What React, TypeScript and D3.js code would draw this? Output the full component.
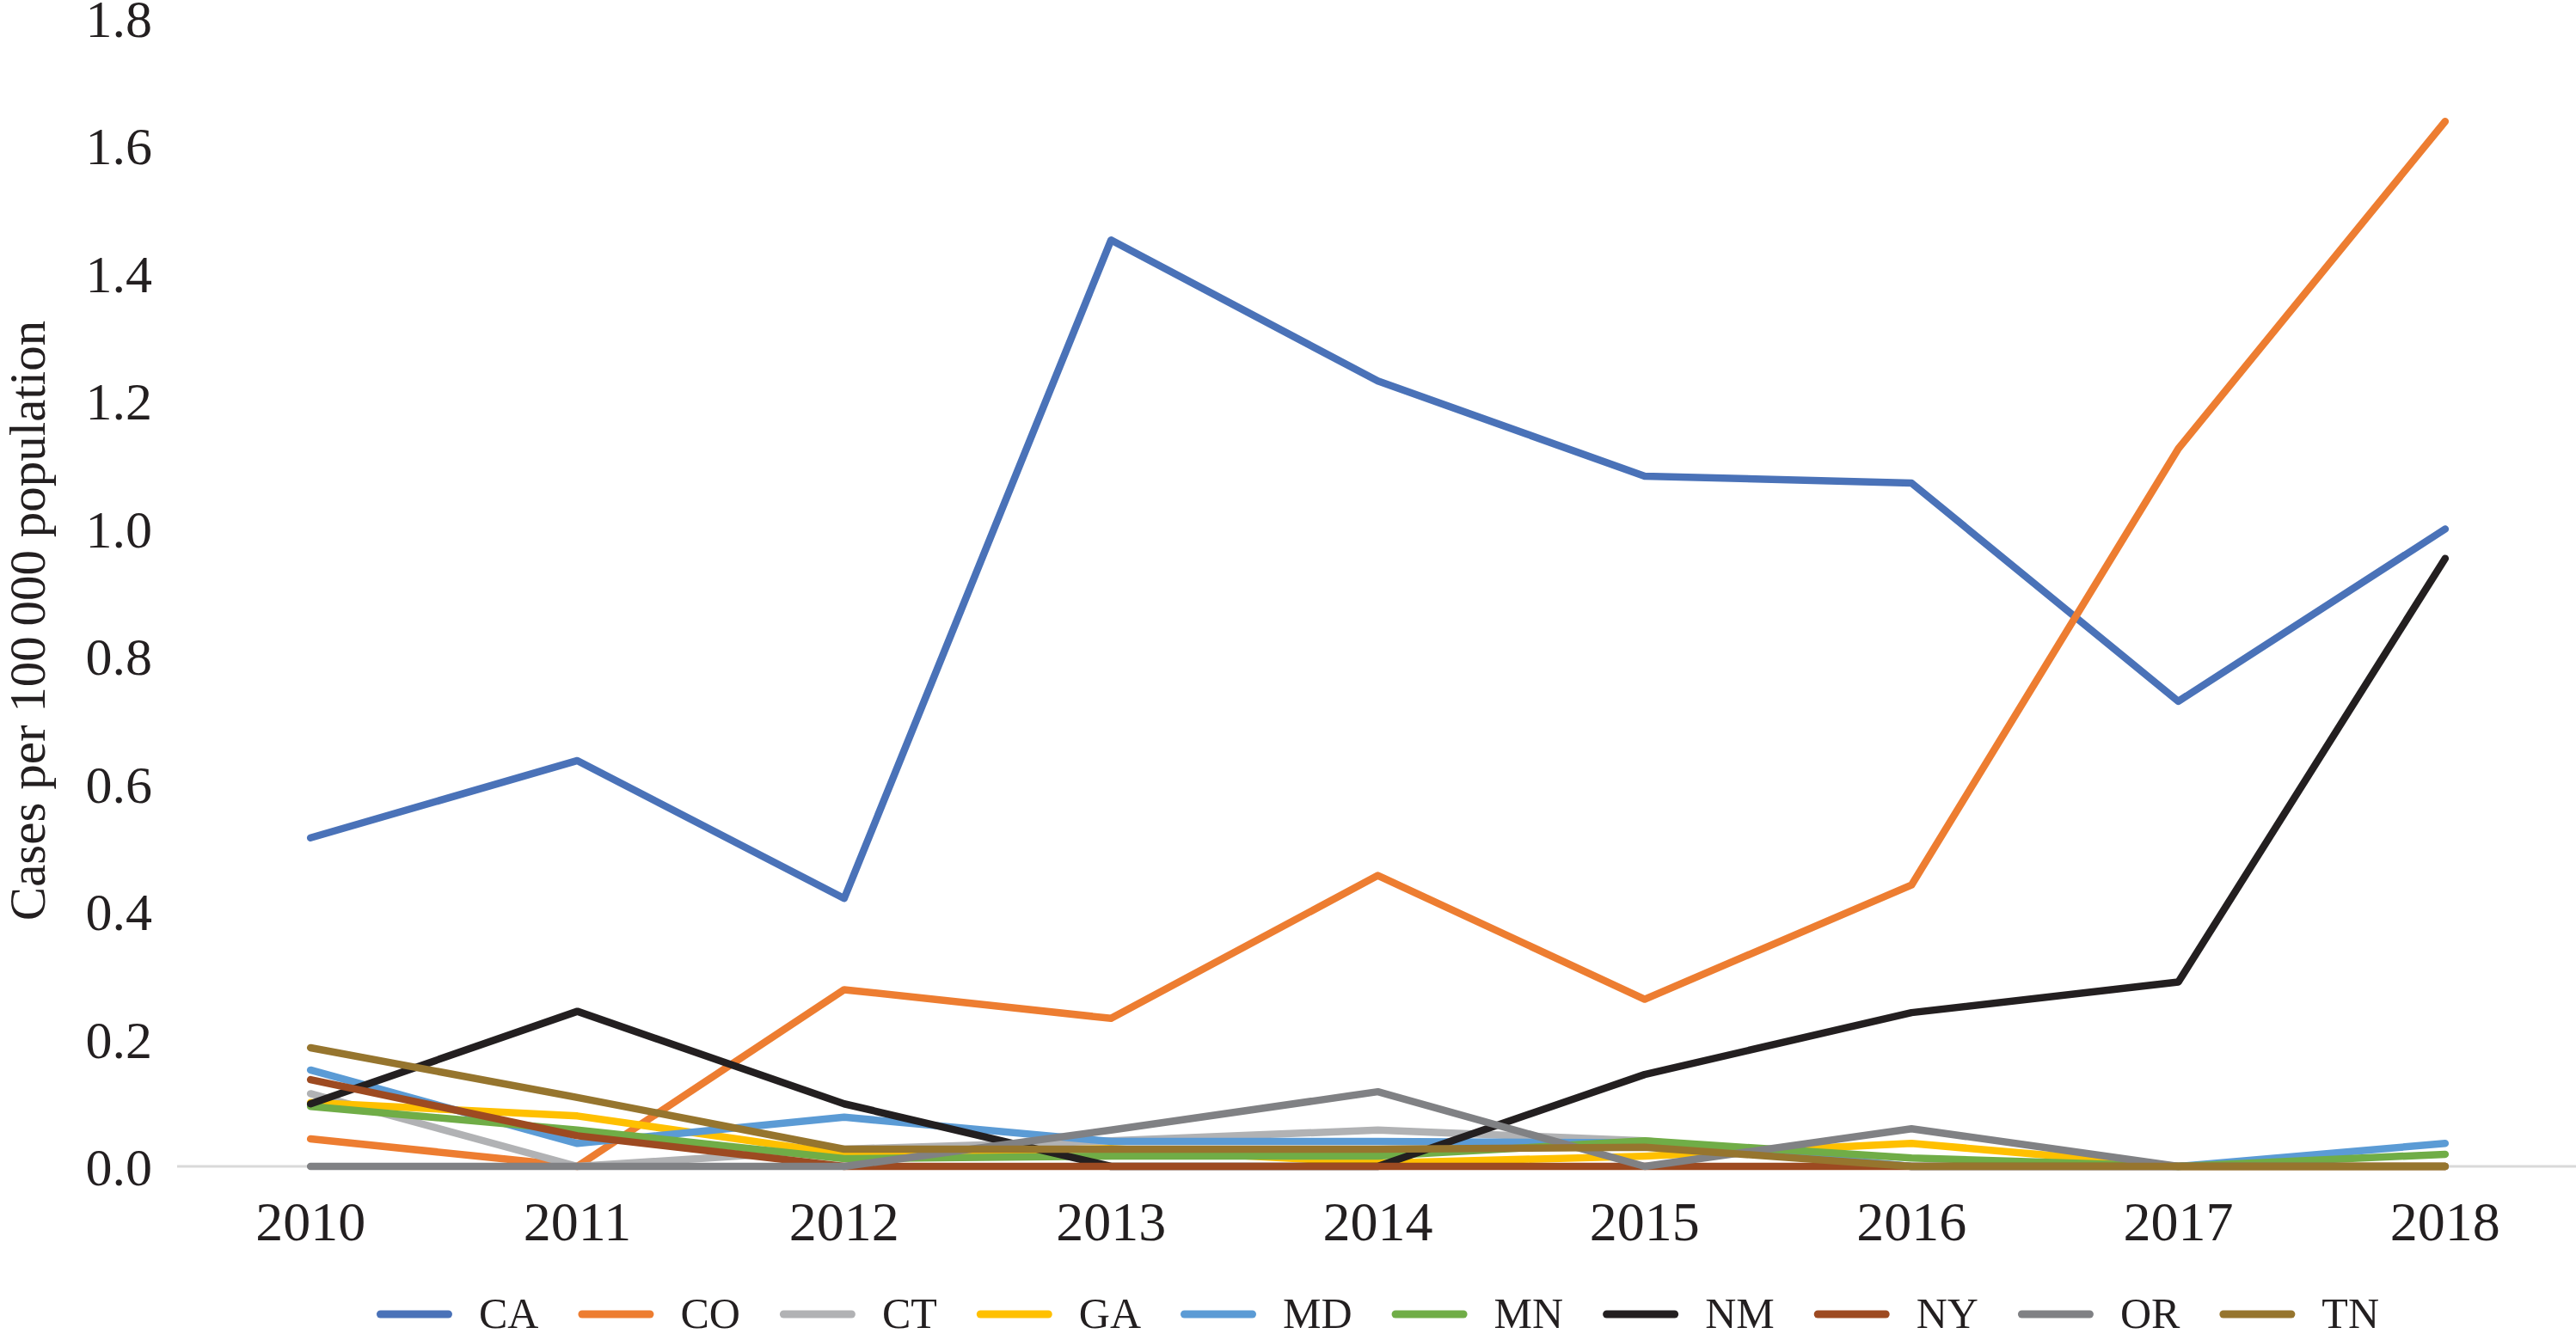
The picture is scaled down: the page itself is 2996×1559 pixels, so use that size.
import {useMemo} from "react";
import * as d3 from "d3";

// chart data
const years = ["2010", "2011", "2012", "2013", "2014", "2015", "2016", "2017", "2018"];
const states = ["CA", "CO", "CT", "GA", "MD", "MN", "NM", "NY", "OR", "TN"];
const colors = ["#4a72b8", "#ed7d31", "#b1b2b4", "#ffc000", "#5b9bd5", "#70ad47", "#231f20", "#9d4a21", "#808184", "#96752e"];

const CA = [0.515, 0.636, 0.42, 1.452, 1.231, 1.082, 1.071, 0.729, 0.999];
const CO = [0.043, 0, 0.277, 0.232, 0.456, 0.262, 0.441, 1.125, 1.638];
const CT = [0.114, 0, 0.027, 0.04, 0.057, 0.04, 0, 0, 0];
const GA = [0.1, 0.079, 0.019, 0.028, 0.005, 0.016, 0.036, 0, 0];
const MD = [0.151, 0.036, 0.077, 0.039, 0.039, 0.037, 0, 0, 0.036];
const MN = [0.094, 0.057, 0.012, 0.016, 0.016, 0.04, 0.013, 0, 0.019];
const NM = [0.098, 0.243, 0.098, 0, 0, 0.144, 0.241, 0.289, 0.953];
const NY = [0.136, 0.048, 0, 0, 0, 0, 0, 0, 0];
const OR = [0, 0, 0, 0.057, 0.117, 0, 0.059, 0, 0];
const TN = [0.186, 0.108, 0.027, 0.027, 0.027, 0.03, 0, 0, 0];
const seriesValues = [CA, CO, CT, GA, MD, MN, NM, NY, OR, TN];

const yTicks = [0, 0.2, 0.4, 0.6, 0.8, 1.0, 1.2, 1.4, 1.6, 1.8];
const yTitle = "Cases per 100\u2009000 population";

const W = 2996;
const H = 1559;
const FONT = "'Liberation Serif', 'DejaVu Serif', serif";

const App = () => {
    const x = d3.scalePoint<string>().domain(years).range([206, 2999]).padding(0.5);
    const y = d3.scaleLinear().domain([0, 1.8]).range([1357, 21]);

    const line = d3.line<number>()
        .x((_, i) => x(years[i]) as number)
        .y(d => y(d));

    // legend layout: measure text to space items like Excel does
    const legend = useMemo(() => {
        const ctx = document.createElement("canvas").getContext("2d");
        const fs = 50;
        if (ctx) ctx.font = `${fs}px 'Liberation Serif'`;
        const symW = 88, gapTxt = 31, gapItem = 46;
        const widths = states.map(s => ctx ? ctx.measureText(s).width : s.length * 34);
        const itemW = widths.map(w => symW + gapTxt + w);
        const total = d3.sum(itemW) + gapItem * (states.length - 1);
        let cur = (206 + 2999) / 2 - total / 2;
        return states.map((s, i) => {
            const pos = cur;
            cur += itemW[i] + gapItem;
            return {name: s, x: pos, symW, gapTxt, color: colors[i]};
        });
    }, []);

    // baseline of legend text, kept so the descent stays inside the picture
    const legendBase = 1545;

    return (
        <div style={{position: "fixed", left: 0, top: 0, background: "#fff"}}>
            <svg width={W} height={H} style={{display: "block"}} fontFamily={FONT}>
                <rect width={W} height={H} fill="#fff" />

                {/* zero axis line */}
                <line x1={206} x2={2999} y1={y(0)} y2={y(0)} stroke="#d9d9d9" strokeWidth={3} />

                {/* y tick labels */}
                {yTicks.map(t => (
                    <text key={t} x={177} y={y(t) + 22} textAnchor="end"
                          fontSize={62} fill="#231f20">{t.toFixed(1)}</text>
                ))}

                {/* x tick labels */}
                {years.map(yr => (
                    <text key={yr} x={x(yr)} y={1443} textAnchor="middle"
                          fontSize={64} fill="#231f20">{yr}</text>
                ))}

                {/* y axis title */}
                <text transform={`translate(52, 722) rotate(-90)`}
                      textAnchor="middle" fontSize={59} fill="#231f20">{yTitle}</text>

                {/* series lines, drawn in legend order */}
                {seriesValues.map((vals, i) => (
                    <path key={states[i]} d={line(vals) || ""} fill="none" stroke={colors[i]}
                          strokeWidth={8.5} strokeLinecap="round" strokeLinejoin="round" />
                ))}

                {/* legend */}
                {legend.map(it => (
                    <g key={it.name}>
                        <line x1={it.x + 4.5} x2={it.x + it.symW - 4.5} y1={legendBase - 16} y2={legendBase - 16}
                              stroke={it.color} strokeWidth={9} strokeLinecap="round" />
                        <text x={it.x + it.symW + it.gapTxt} y={legendBase}
                              fontSize={50} fill="#231f20">{it.name}</text>
                    </g>
                ))}
            </svg>
        </div>
    );
};

export default App;
